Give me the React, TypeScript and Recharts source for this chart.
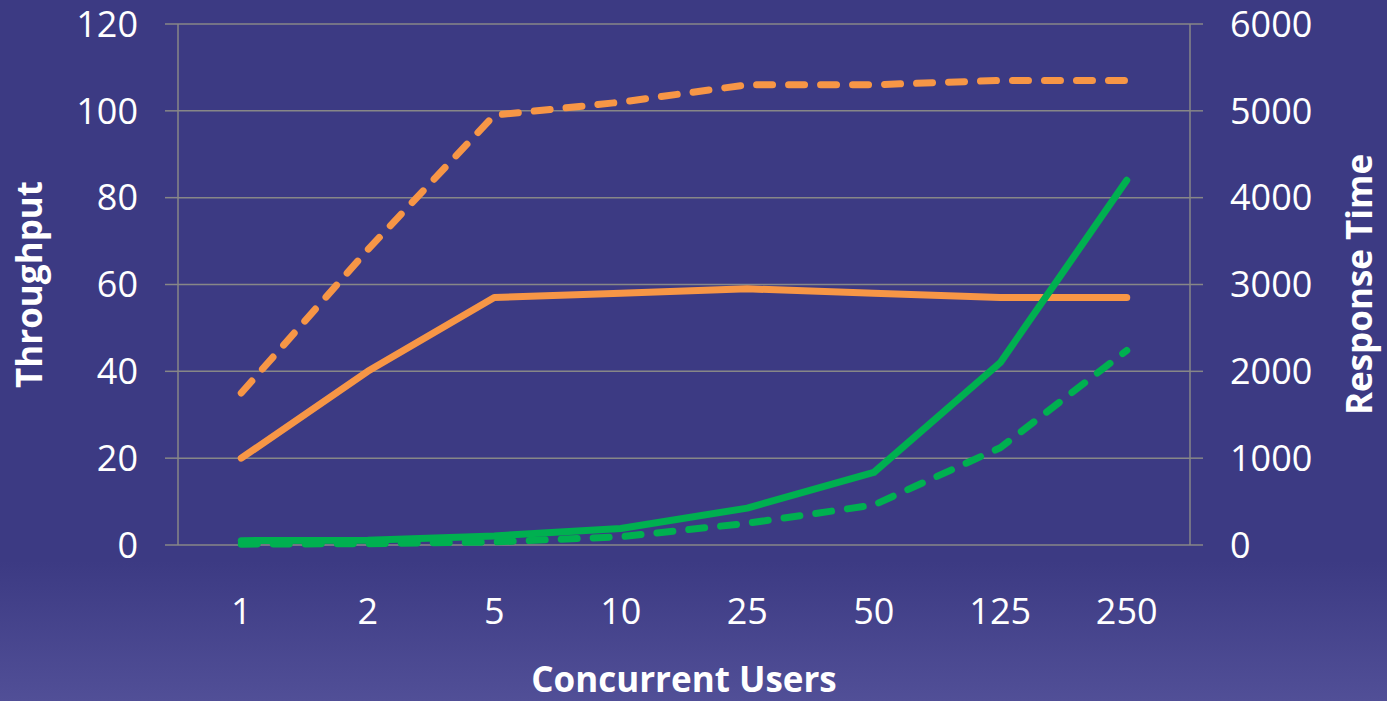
import React from "react";
import { LineChart, Line, XAxis, YAxis, CartesianGrid, Label } from "recharts";

const users = ["1", "2", "5", "10", "25", "50", "125", "250"];
const throughputSolid = [20, 40, 57, 58, 59, 58, 57, 57];
const throughputDashed = [35, 68, 99, 102, 106, 106, 107, 107];
const responseSolid = [50, 55, 105, 190, 425, 835, 2100, 4200];
const responseDashed = [10, 15, 35, 95, 250, 460, 1120, 2240];
const leftTicks = [0, 20, 40, 60, 80, 100, 120];
const rightTicks = [0, 1000, 2000, 3000, 4000, 5000, 6000];
const bandEdges = [0, 1, 2, 3, 4, 5, 6, 7, 8];

const data = users.map((u, i) => ({
  users: u,
  tA: throughputSolid[i],
  tB: throughputDashed[i],
  rA: responseSolid[i],
  rB: responseDashed[i],
}));

const ORANGE = "#f79646";
const GREEN = "#00b050";
const GRID = "#878787";

const tickStyle = { fill: "#ffffff", fontSize: 36 };

function title(text: string, dx: number, dy: number | null, rotate: boolean) {
  return (props: any) => {
    const vb = props.viewBox || {};
    const x = rotate ? vb.x + dx : vb.x + vb.width / 2;
    const y = rotate ? vb.y + vb.height / 2 : vb.y + (dy ?? 0);
    return (
      <text
        x={x}
        y={y}
        transform={rotate ? `rotate(-90 ${x} ${y})` : undefined}
        textAnchor="middle"
        fill="#ffffff"
        fontSize={35}
        fontWeight={700}
      >
        {text}
      </text>
    );
  };
}

export default function App() {
  return (
    <div
      style={{
        position: "absolute",
        left: 0,
        top: 0,
        width: 1387,
        height: 701,
        background: "linear-gradient(180deg, #3c3a83 0%, #3c3a83 80%, #514f97 100%)",
        fontFamily: "'Open Sans', sans-serif",
      }}
    >
      <LineChart
        width={1387}
        height={701}
        data={data}
        margin={{ top: 24, right: 0, bottom: 0, left: 0 }}
      >
        <CartesianGrid vertical={false} stroke={GRID} strokeWidth={1.5} yAxisId="left" />
        <XAxis
          xAxisId="edges"
          type="number"
          domain={[0, 8]}
          ticks={bandEdges}
          allowDataOverflow
          height={0}
          tick={false}
          tickSize={12}
          stroke={GRID}
          strokeWidth={1.5}
        />
        <XAxis
          xAxisId="cat"
          dataKey="users"
          scale="band"
          height={156}
          axisLine={false}
          tickLine={false}
          tickSize={12}
          tickMargin={41}
          tick={tickStyle}
          interval={0}
        >
          <Label content={title("Concurrent Users", 0, 147, false)} />
        </XAxis>
        <YAxis
          yAxisId="left"
          width={178}
          domain={[0, 120]}
          ticks={leftTicks}
          tickSize={13}
          tickMargin={27}
          tick={tickStyle}
          stroke={GRID}
          strokeWidth={1.5}
        >
          <Label content={title("Throughput", 42, null, true)} />
        </YAxis>
        <YAxis
          yAxisId="right"
          orientation="right"
          width={197}
          domain={[0, 6000]}
          ticks={rightTicks}
          tickSize={13}
          tickMargin={27}
          tick={tickStyle}
          stroke={GRID}
          strokeWidth={1.5}
        >
          <Label content={title("Response Time", 182, null, true)} />
        </YAxis>
        <Line
          xAxisId="cat"
          yAxisId="left"
          dataKey="tA"
          stroke={ORANGE}
          strokeWidth={7}
          strokeLinecap="round"
          strokeLinejoin="round"
          dot={false}
          isAnimationActive={false}
        />
        <Line
          xAxisId="cat"
          yAxisId="left"
          dataKey="tB"
          stroke={ORANGE}
          strokeWidth={7}
          strokeDasharray="16 16"
          strokeLinecap="round"
          strokeLinejoin="round"
          dot={false}
          isAnimationActive={false}
        />
        <Line
          xAxisId="cat"
          yAxisId="right"
          dataKey="rB"
          stroke={GREEN}
          strokeWidth={7}
          strokeDasharray="16 16"
          strokeLinecap="round"
          strokeLinejoin="round"
          dot={false}
          isAnimationActive={false}
        />
        <Line
          xAxisId="cat"
          yAxisId="right"
          dataKey="rA"
          stroke={GREEN}
          strokeWidth={7}
          strokeLinecap="round"
          strokeLinejoin="round"
          dot={false}
          isAnimationActive={false}
        />
      </LineChart>
    </div>
  );
}
